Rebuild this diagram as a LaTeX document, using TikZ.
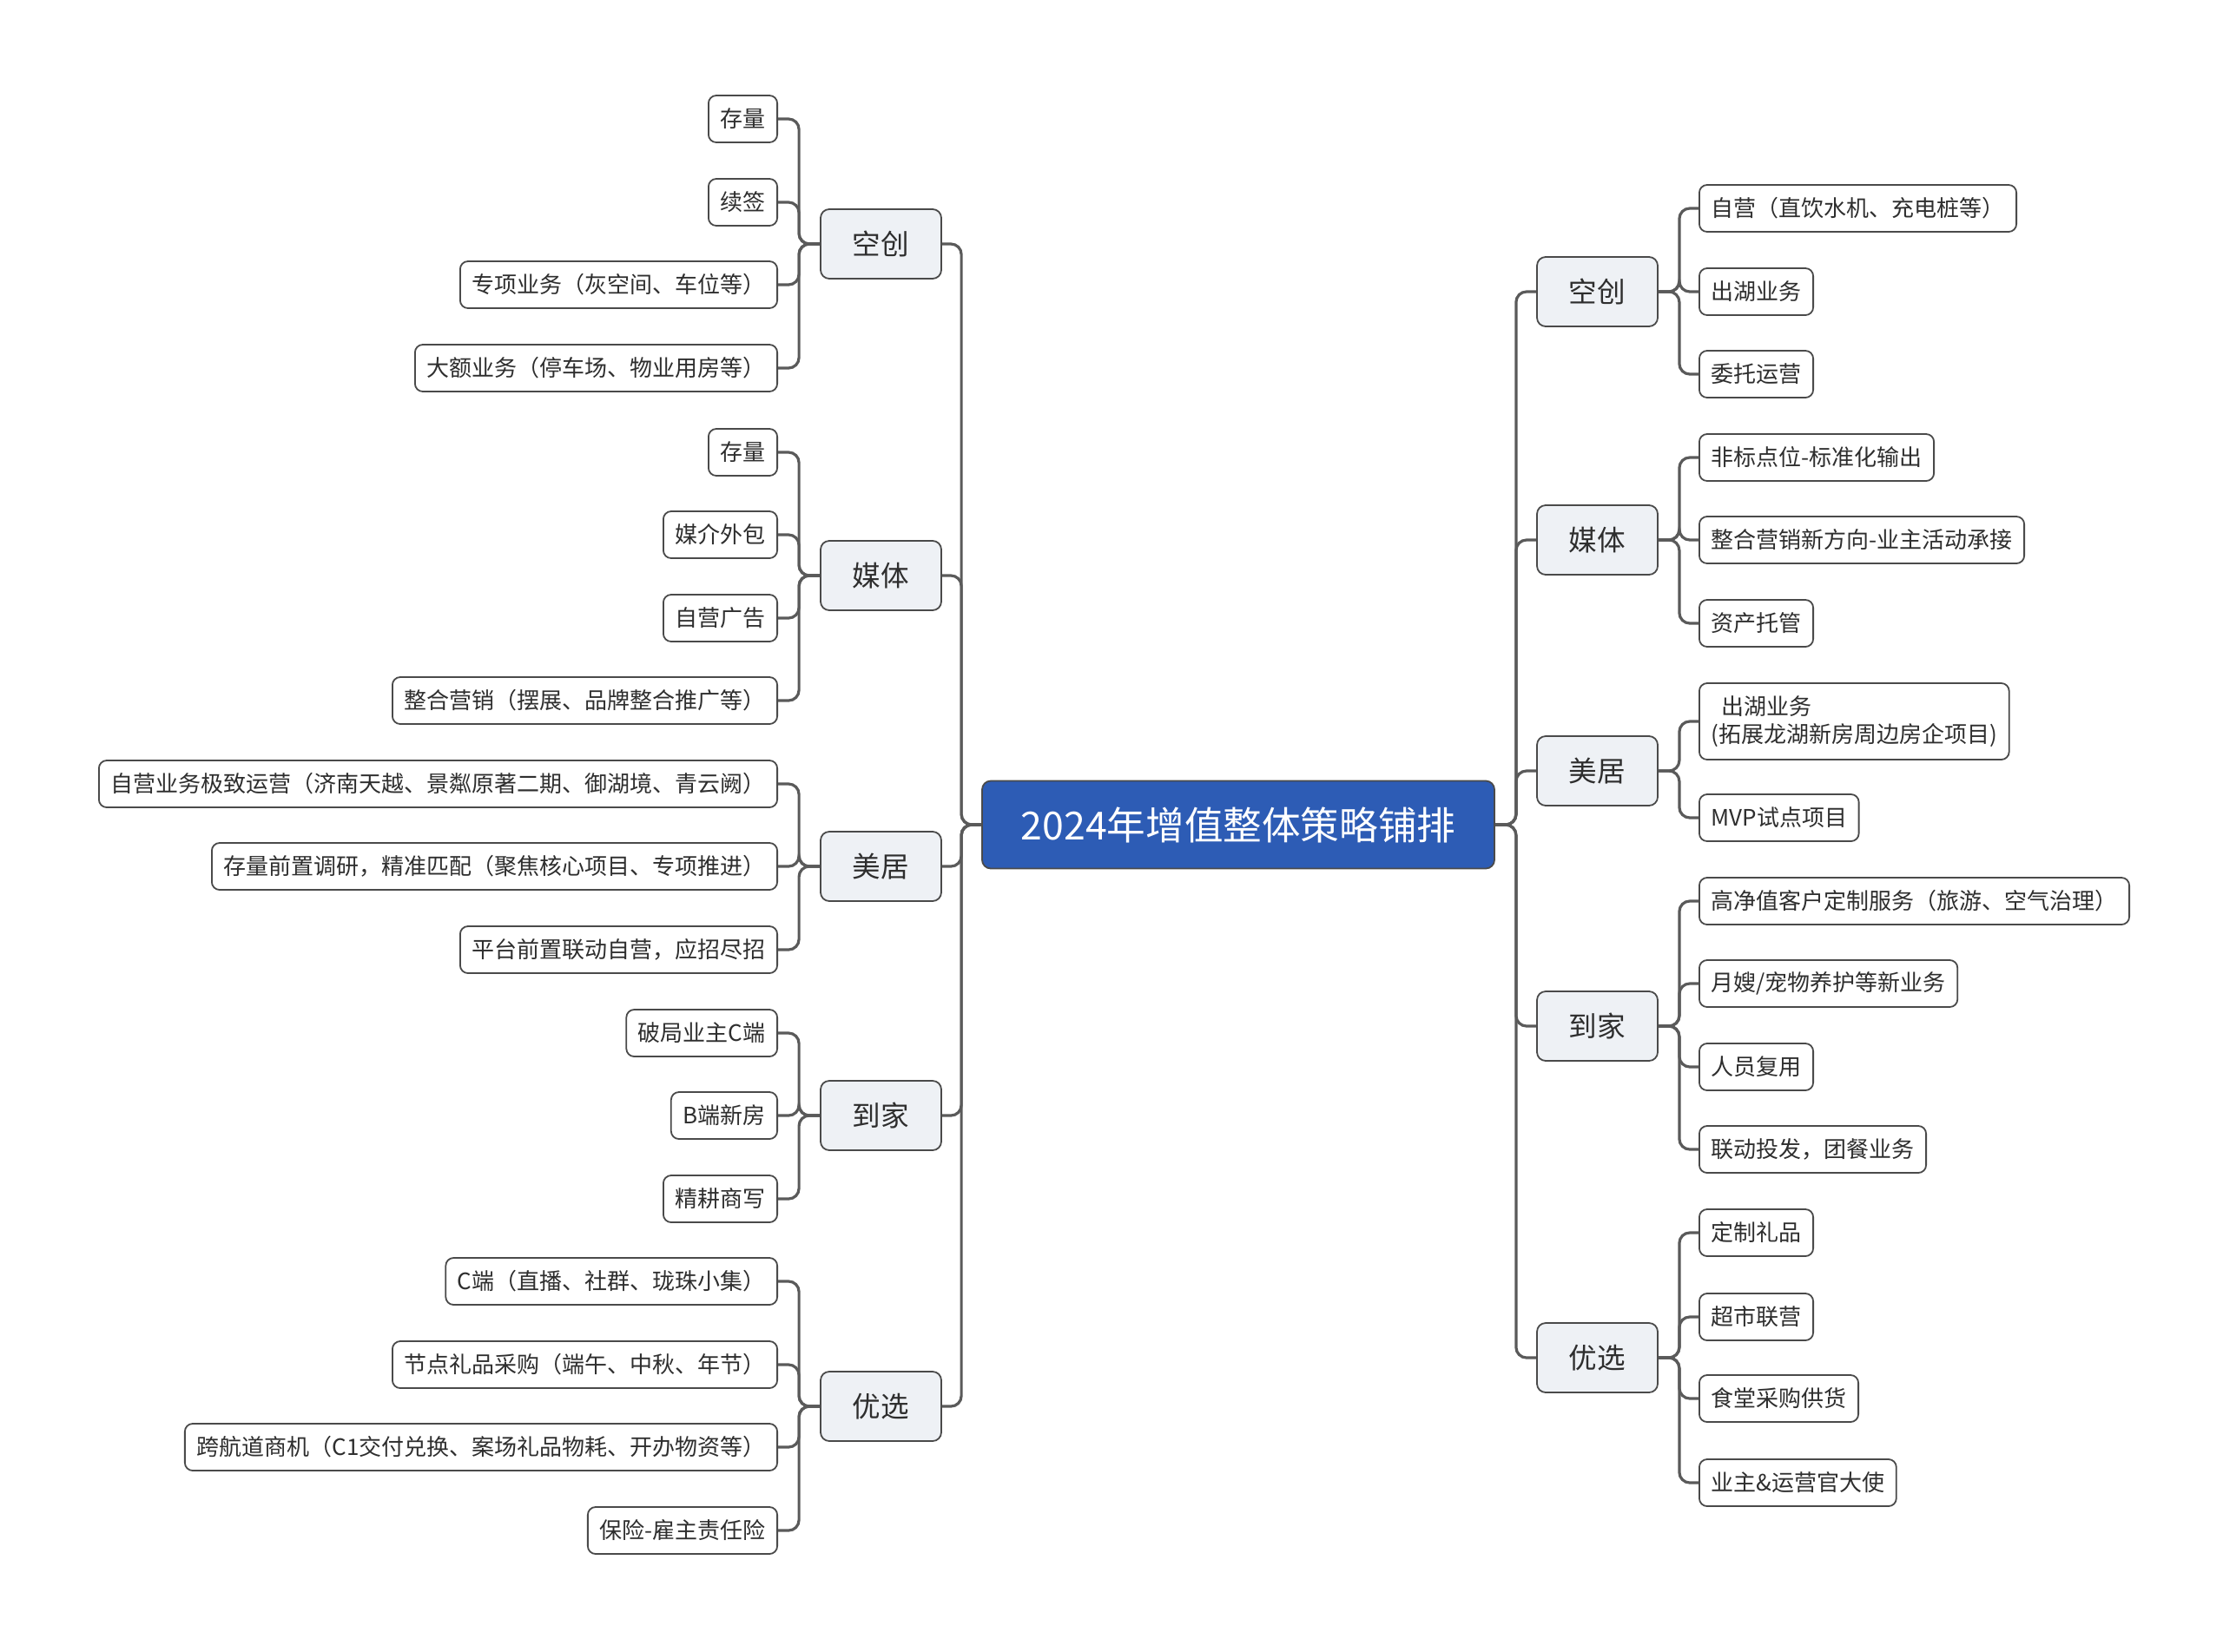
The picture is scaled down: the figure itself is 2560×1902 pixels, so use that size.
\documentclass[tikz,border=0pt]{standalone}
\usepackage{fontspec}
\setmainfont{Noto Sans CJK SC}
\definecolor{linec}{HTML}{5A5A5A}
\definecolor{bordc}{HTML}{4A4A4A}
\definecolor{txtc}{HTML}{2E2E2E}
\definecolor{lvlfill}{HTML}{EEF1F5}
\definecolor{rootfill}{HTML}{2D5CB5}
\begin{document}
\begin{tikzpicture}[x=0.5pt,y=-0.5pt,
  leaf/.style={draw=bordc, line width=0.9pt, rounded corners=4.5pt, fill=white, text=txtc,
    font=\fontsize{13pt}{16pt}\selectfont, inner xsep=6.8pt, inner ysep=0pt, minimum height=27pt},
  lvl/.style={draw=bordc, line width=0.9pt, rounded corners=5pt, fill=lvlfill, text=txtc,
    font=\fontsize{16.3pt}{19pt}\selectfont, minimum width=69.5pt, minimum height=40pt, inner sep=0pt},
  root/.style={draw=bordc, line width=0.9pt, rounded corners=5pt, fill=rootfill, text=white,
    font=\fontsize{22.3pt}{26pt}\selectfont, minimum width=295pt, minimum height=50.5pt, inner sep=0pt},
  conn/.style={draw=linec, line width=1.6pt, rounded corners=6pt}
]
\useasboundingbox (0,0) rectangle (2560,1902);

% root
\node[root] (c) at (1426,950) {2024年增值整体策略铺排};

% left level 1
\node[lvl] (L1) at (1014.5,281) {空创};
\node[lvl] (L2) at (1014.5,663) {媒体};
\node[lvl] (L3) at (1014.5,998) {美居};
\node[lvl] (L4) at (1014.5,1285) {到家};
\node[lvl] (L5) at (1014.5,1620) {优选};

% right level 1
\node[lvl] (R1) at (1839.5,336) {空创};
\node[lvl] (R2) at (1839.5,622) {媒体};
\node[lvl] (R3) at (1839.5,888) {美居};
\node[lvl] (R4) at (1839.5,1182) {到家};
\node[lvl] (R5) at (1839.5,1564) {优选};

% left leaves
\node[leaf,anchor=east] (a1) at (896,137) {存量};
\node[leaf,anchor=east] (a2) at (896,233) {续签};
\node[leaf,anchor=east] (a3) at (896,328) {专项业务（灰空间、车位等）};
\node[leaf,anchor=east] (a4) at (896,424) {大额业务（停车场、物业用房等）};
\node[leaf,anchor=east] (b1) at (896,521) {存量};
\node[leaf,anchor=east] (b2) at (896,616) {媒介外包};
\node[leaf,anchor=east] (b3) at (896,712) {自营广告};
\node[leaf,anchor=east] (b4) at (896,807) {整合营销（摆展、品牌整合推广等）};
\node[leaf,anchor=east] (d1) at (896,903) {自营业务极致运营（济南天越、景粼原著二期、御湖境、青云阙）};
\node[leaf,anchor=east] (d2) at (896,998) {存量前置调研，精准匹配（聚焦核心项目、专项推进）};
\node[leaf,anchor=east] (d3) at (896,1094) {平台前置联动自营，应招尽招};
\node[leaf,anchor=east] (e1) at (896,1190) {破局业主C端};
\node[leaf,anchor=east] (e2) at (896,1285) {B端新房};
\node[leaf,anchor=east] (e3) at (896,1381) {精耕商写};
\node[leaf,anchor=east] (f1) at (896,1476) {C端（直播、社群、珑珠小集）};
\node[leaf,anchor=east] (f2) at (896,1572) {节点礼品采购（端午、中秋、年节）};
\node[leaf,anchor=east] (f3) at (896,1667) {跨航道商机（C1交付兑换、案场礼品物耗、开办物资等）};
\node[leaf,anchor=east] (f4) at (896,1763) {保险-雇主责任险};

% right leaves
\node[leaf,anchor=west] (p1) at (1956,240) {自营（直饮水机、充电桩等）};
\node[leaf,anchor=west] (p2) at (1956,336) {出湖业务};
\node[leaf,anchor=west] (p3) at (1956,431) {委托运营};
\node[leaf,anchor=west] (q1) at (1956,527) {非标点位-标准化输出};
\node[leaf,anchor=west] (q2) at (1956,622) {整合营销新方向-业主活动承接};
\node[leaf,anchor=west] (q3) at (1956,718) {资产托管};
\node[leaf,anchor=west,align=left,minimum height=44pt] (s1) at (1956,831) {\ \ 出湖业务\\(拓展龙湖新房周边房企项目)};
\node[leaf,anchor=west] (s2) at (1956,942) {MVP试点项目};
\node[leaf,anchor=west] (t1) at (1956,1038) {高净值客户定制服务（旅游、空气治理）};
\node[leaf,anchor=west] (t2) at (1956,1133) {月嫂/宠物养护等新业务};
\node[leaf,anchor=west] (t3) at (1956,1229) {人员复用};
\node[leaf,anchor=west] (t4) at (1956,1324) {联动投发，团餐业务};
\node[leaf,anchor=west] (u1) at (1956,1420) {定制礼品};
\node[leaf,anchor=west] (u2) at (1956,1517) {超市联营};
\node[leaf,anchor=west] (u3) at (1956,1611) {食堂采购供货};
\node[leaf,anchor=west] (u4) at (1956,1708) {业主\&运营官大使};

% root to level 1
\foreach \n in {L1,L2,L3,L4,L5}
  \draw[conn] (c.west) -- ++(-23,0) |- (\n.east);
\foreach \n in {R1,R2,R3,R4,R5}
  \draw[conn] (c.east) -- ++(24,0) |- (\n.west);

% left level 1 to leaves
\foreach \n in {a1,a2,a3,a4}
  \draw[conn] (L1.west) -- ++(-24,0) |- (\n.east);
\foreach \n in {b1,b2,b3,b4}
  \draw[conn] (L2.west) -- ++(-24,0) |- (\n.east);
\foreach \n in {d1,d2,d3}
  \draw[conn] (L3.west) -- ++(-24,0) |- (\n.east);
\foreach \n in {e1,e2,e3}
  \draw[conn] (L4.west) -- ++(-24,0) |- (\n.east);
\foreach \n in {f1,f2,f3,f4}
  \draw[conn] (L5.west) -- ++(-24,0) |- (\n.east);

% right level 1 to leaves
\foreach \n in {p1,p2,p3}
  \draw[conn] (R1.east) -- ++(24,0) |- (\n.west);
\foreach \n in {q1,q2,q3}
  \draw[conn] (R2.east) -- ++(24,0) |- (\n.west);
\foreach \n in {s1,s2}
  \draw[conn] (R3.east) -- ++(24,0) |- (\n.west);
\foreach \n in {t1,t2,t3,t4}
  \draw[conn] (R4.east) -- ++(24,0) |- (\n.west);
\foreach \n in {u1,u2,u3,u4}
  \draw[conn] (R5.east) -- ++(24,0) |- (\n.west);
\end{tikzpicture}
\end{document}
